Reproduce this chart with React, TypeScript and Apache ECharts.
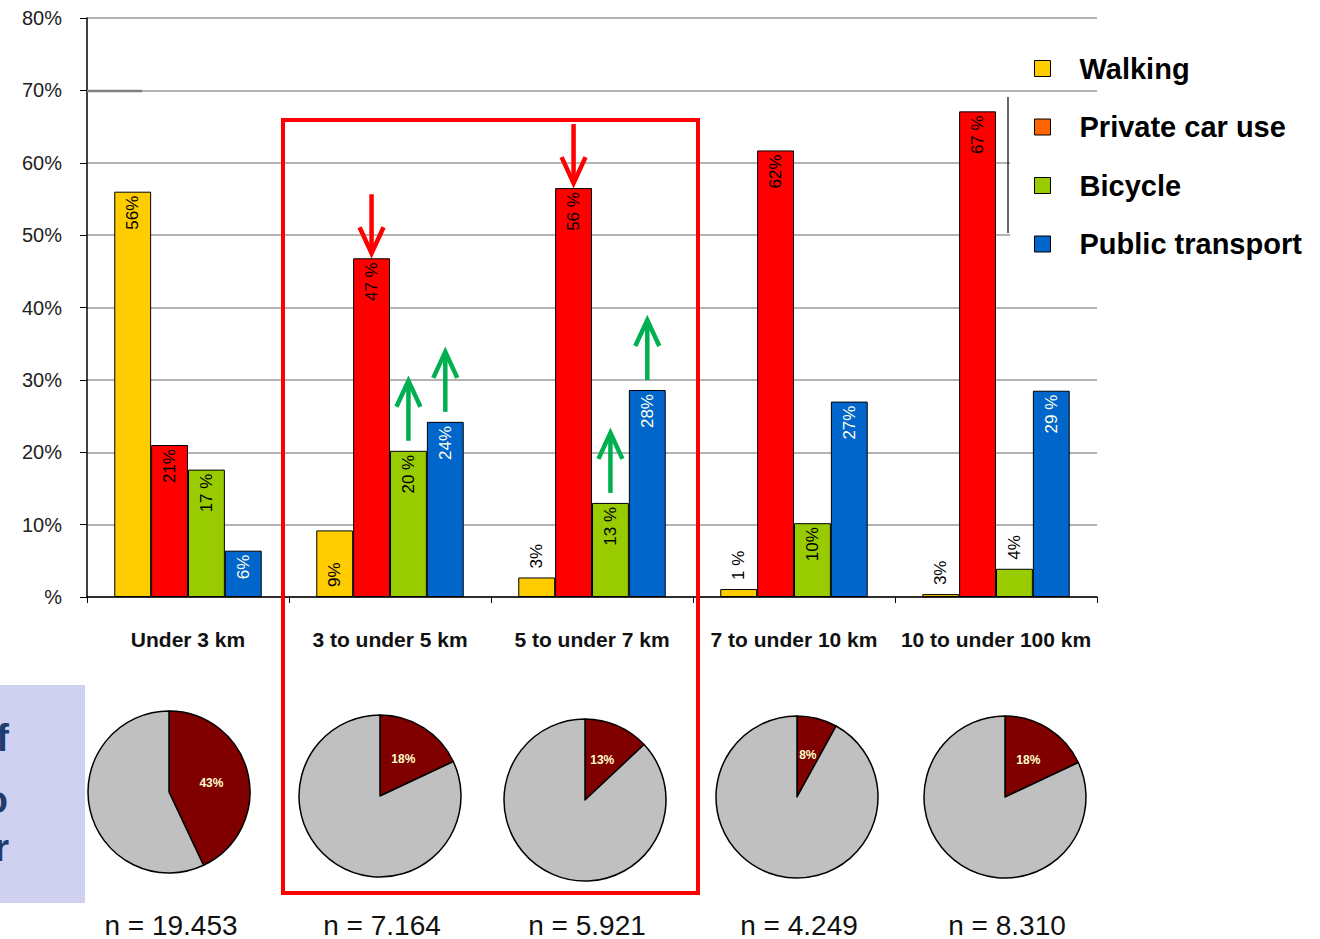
import React, { useEffect, useRef } from "react";
import * as echarts from "echarts";

const categories = ["Under 3 km", "3 to under 5 km", "5 to under 7 km", "7 to under 10 km", "10 to under 100 km"];
const seriesNames = ["Walking", "Private car use", "Bicycle", "Public transport"];

const walking = [56, 9.2, 2.7, 1.1, 0.4];
const privateCar = [21, 46.8, 56.5, 61.7, 67.1];
const bicycle = [17.6, 20.2, 13, 10.2, 3.9];
const publicTransport = [6.4, 24.2, 28.6, 27, 28.5];

const walkingLabels = ["56%", "9%", "3%", "1 %", "3%"];
const carLabels = ["21%", "47 %", "56 %", "62%", "67 %"];
const bicycleLabels = ["17 %", "20 %", "13 %", "10%", "4%"];
const publicLabels = ["6%", "24%", "28%", "27%", "29 %"];

const walkingPos = ["insideTop", "insideBottom", "top", "top", "top"];
const carPos = ["insideTop", "insideTop", "insideTop", "insideTop", "insideTop"];
const bicyclePos = ["insideTop", "insideTop", "insideTop", "insideTop", "top"];
const publicPos = ["insideTop", "insideTop", "insideTop", "insideTop", "insideTop"];

const carShare = [43, 18, 13, 8, 18];
const sampleSizes = ["n = 19.453", "n = 7.164", "n = 5.921", "n = 4.249", "n = 8.310"];

const yMax = 80;
const yStep = 10;

const barColors = ["#FFCC00", "#FF0000", "#99CC00", "#0066CC"];
const legendColors = ["#FFCC00", "#FF6600", "#99CC00", "#0066CC"];
const labelColors = ["#000000", "#000000", "#000000", "#FFFFE8"];

// annotation arrows: [series index, category index, direction]
const arrowNotes: [number, number, string][] = [
  [1, 1, "down"],
  [1, 2, "down"],
  [2, 1, "up"],
  [3, 1, "up"],
  [2, 2, "up"],
  [3, 2, "up"],
];

const FONT = "'Liberation Sans', Arial, sans-serif";
const GRID = { left: 87, right: 223, top: 18, bottom: 342 };
const CAT_GAP = 0.27;
const pieCenters = [[169, 792], [380, 796], [585, 800], [797, 797], [1005, 797]];

function makeBarData(values: number[], labels: string[], pos: string[], color: string) {
  return values.map((v, i) => {
    const p = pos[i];
    return {
      value: v,
      label: {
        show: true,
        position: p,
        rotate: 90,
        align: p === "insideTop" ? "right" : "left",
        verticalAlign: "middle",
        distance: p === "insideTop" ? 4 : p === "top" ? 9 : 10,
        formatter: labels[i],
        color: p === "top" ? "#000000" : color,
        fontSize: 17,
        fontFamily: FONT,
      },
    };
  });
}

function arrow(x: number, yStart: number, yTip: number, color: string) {
  const dir = yTip > yStart ? 1 : -1;
  return {
    type: "group",
    z: 20,
    children: [
      { type: "line", shape: { x1: x, y1: yStart, x2: x, y2: yTip - dir * 2 }, style: { stroke: color, lineWidth: 4.5 } },
      {
        type: "polyline",
        shape: { points: [[x - 12, yTip - dir * 26], [x, yTip], [x + 12, yTip - dir * 26]] },
        style: { stroke: color, lineWidth: 4.5, fill: null, lineJoin: "miter" },
      },
    ],
  };
}

export default function App() {
  const ref = useRef<HTMLDivElement>(null);
  useEffect(() => {
    document.body.style.margin = "0";
    if (!ref.current) return;
    const chart = echarts.init(ref.current, null, { renderer: "svg" });
    const allValues = [walking, privateCar, bicycle, publicTransport];
    const allLabels = [walkingLabels, carLabels, bicycleLabels, publicLabels];
    const allPos = [walkingPos, carPos, bicyclePos, publicPos];

    const barSeries = seriesNames.map((name, s) => ({
      type: "bar",
      name,
      barGap: 0,
      barCategoryGap: CAT_GAP * 100 + "%",
      itemStyle: { color: barColors[s], borderColor: "#000", borderWidth: 1 },
      data: makeBarData(allValues[s], allLabels[s], allPos[s], labelColors[s]),
      emphasis: { disabled: true },
      silent: true,
      z: 3,
    }));

    const pieSeries = carShare.map((share, i) => ({
      type: "pie",
      center: pieCenters[i],
      radius: 81,
      startAngle: 90,
      clockwise: true,
      silent: true,
      avoidLabelOverlap: false,
      emphasis: { disabled: true },
      labelLine: { show: false },
      itemStyle: { borderColor: "#000", borderWidth: 1.5 },
      data: [
        {
          value: share,
          name: "car share " + (i + 1),
          itemStyle: { color: "#800000" },
          label: { show: true, position: "inside", formatter: "{c}%", color: "#FFFFCC", fontSize: 12, fontWeight: "bold", fontFamily: FONT },
        },
        { value: 100 - share, name: "other " + (i + 1), itemStyle: { color: "#C0C0C0" }, label: { show: false } },
      ],
    }));

    chart.setOption({
      animation: false,
      backgroundColor: "#ffffff",
      grid: { ...GRID, containLabel: false },
      legend: {
        orient: "vertical",
        left: 1029,
        top: 49,
        padding: 5,
        itemWidth: 16,
        itemHeight: 16,
        itemGap: 29.5,
        icon: "rect",
        selectedMode: false,
        z: 10,
        data: seriesNames.map((n, i) => ({
          name: n,
          itemStyle: { color: legendColors[i], borderColor: "#000", borderWidth: 1 },
        })),
        textStyle: { fontSize: 29, fontWeight: "bold", fontFamily: FONT, color: "#000", padding: [0, 0, 0, 24], lineHeight: 28 },
      },
      xAxis: {
        type: "category",
        data: categories,
        axisLine: { lineStyle: { color: "#000", width: 1.5 } },
        axisTick: { show: true, length: 6, lineStyle: { color: "#000" } },
        axisLabel: {
          margin: 32,
          fontSize: 21,
          fontWeight: "bold",
          fontFamily: FONT,
          color: "#111",
          interval: 0,
        },
        splitLine: { show: false },
      },
      yAxis: {
        type: "value",
        min: 0,
        max: yMax,
        interval: yStep,
        axisLine: { show: true, lineStyle: { color: "#000", width: 1.5 } },
        axisTick: { show: true, length: 7, lineStyle: { color: "#000" } },
        axisLabel: {
          margin: 25,
          fontSize: 20,
          fontFamily: FONT,
          color: "#222",
          formatter: (v: number) => (v === 0 ? "%" : v + "%"),
        },
        splitLine: { show: true, lineStyle: { color: "#9a9a9a", width: 1.5 } },
      },
      series: [...barSeries, ...pieSeries],
    });

    // annotations computed from the chart's scales
    const gridWidth = 1320 - GRID.left - GRID.right;
    const band = gridWidth / categories.length;
    const barW = (band * (1 - CAT_GAP)) / seriesNames.length;
    const arrows = arrowNotes.map(([s, c, d]) => {
      const pt = chart.convertToPixel({ gridIndex: 0 }, [c, allValues[s][c]]) as number[];
      const x = pt[0] + (s - (seriesNames.length - 1) / 2) * barW;
      const top = pt[1];
      if (d === "down") return arrow(x, top - 64, top - 5, "#FF0000");
      return arrow(x, top - 10, top - 70, "#00B050");
    });

    const nTexts = sampleSizes.map((t, i) => ({
      type: "text",
      x: pieCenters[i][0] + 2,
      y: 925,
      style: { text: t, fontSize: 28, fontFamily: FONT, fill: "#111", textAlign: "center", textVerticalAlign: "middle" },
    }));

    chart.setOption({
      graphic: {
        elements: [
          { type: "rect", z: 1, shape: { x: 1010, y: 94, width: 100, height: 154 }, style: { fill: "#ffffff" } },
          { type: "line", z: 2, shape: { x1: 1008, y1: 97, x2: 1008, y2: 233 }, style: { stroke: "#000", lineWidth: 1.2 } },
          { type: "line", z: 2, shape: { x1: 87, y1: 91, x2: 142, y2: 91 }, style: { stroke: "#808080", lineWidth: 2.5 } },
          { type: "rect", z: 1, shape: { x: 0, y: 685, width: 85, height: 218 }, style: { fill: "#D0D0F0" } },
          { type: "text", z: 2, x: 9, y: 738, style: { text: "f", fontSize: 38, fontWeight: "bold", fontFamily: FONT, fill: "#1F3D6E", textAlign: "right", textVerticalAlign: "middle" } },
          { type: "text", z: 2, x: 8, y: 800, style: { text: "o", fontSize: 38, fontWeight: "bold", fontFamily: FONT, fill: "#1F3D6E", textAlign: "right", textVerticalAlign: "middle" } },
          { type: "text", z: 2, x: 9, y: 848, style: { text: "r", fontSize: 38, fontWeight: "bold", fontFamily: FONT, fill: "#1F3D6E", textAlign: "right", textVerticalAlign: "middle" } },
          { type: "rect", z: 30, shape: { x: 283, y: 120, width: 415, height: 773 }, style: { fill: null, stroke: "#FF0000", lineWidth: 4 } },
          ...nTexts,
          ...arrows,
        ],
      },
    });

    return () => chart.dispose();
  }, []);
  return <div ref={ref} style={{ width: 1320, height: 939 }} />;
}
